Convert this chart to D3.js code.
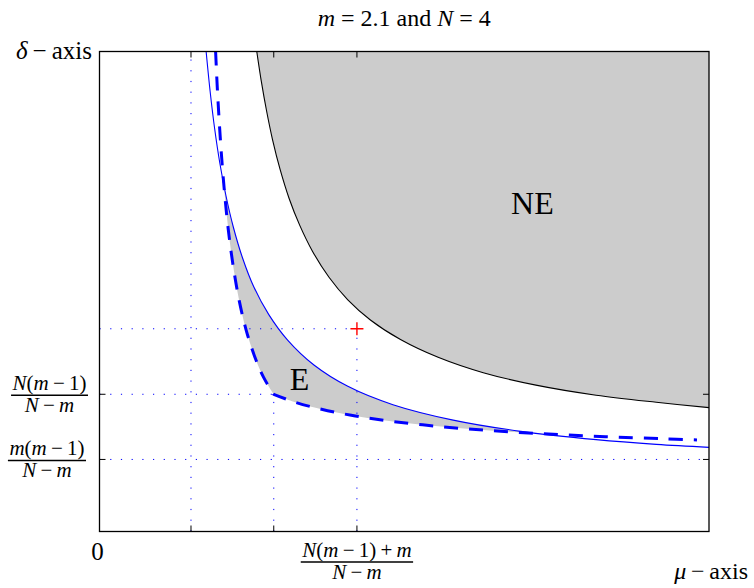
<!DOCTYPE html>
<html>
<head>
<meta charset="utf-8">
<script src="https://cdn.jsdelivr.net/npm/d3@7"></script>
<style>
  body { margin: 0; background: #fff; }
  text { font-family: "Liberation Serif", "Times New Roman", serif; fill: #000; }
</style>
</head>
<body>
<div id="chart"></div>
<script>
// values (mu on x, delta on y)
var muMax = 8.1;
var deltaMax = 8.1;

// tick positions: m(m-1)/(N-m), N(m-1)/(N-m), (N(m-1)+m)/(N-m) with m = 2.1, N = 4
var muTicks = [1.2158, 2.3158, 3.4211];
var deltaTicks = [1.2158, 2.3158];

// dotted guides: [value, extent along the other axis]
var guideH = [[1.2158, 8.1], [2.3158, 2.3158], [3.4211, 3.4211]];
var guideV = [[1.2158, 8.1], [2.3158, 2.3158], [3.4211, 3.4211]];

var crossPoint = [3.4211, 3.4211];

// black curve, NE border
var blackMu    = [2.09, 2.15, 2.22, 2.30, 2.40, 2.52, 2.66, 2.83, 3.05, 3.30, 3.60, 4.00, 4.50, 5.10, 5.80, 6.60, 7.40, 8.10];
var blackDelta = [8.10, 7.60, 7.10, 6.61, 6.11, 5.62, 5.17, 4.73, 4.29, 3.91, 3.57, 3.24, 2.94, 2.68, 2.47, 2.30, 2.18, 2.09];

// thin blue curve
var blueMu    = [1.417, 1.47, 1.53, 1.60, 1.68, 1.78, 1.90, 2.05, 2.25, 2.50, 2.85, 3.30, 3.90, 4.70, 5.60, 6.60, 7.40, 8.10];
var blueDelta = [8.10, 7.43, 6.80, 6.21, 5.67, 5.13, 4.62, 4.13, 3.66, 3.23, 2.81, 2.45, 2.14, 1.88, 1.69, 1.55, 1.47, 1.42];

// thick dashed blue curve, two pieces meeting at the corner
var dashLeftMu    = [1.543, 1.565, 1.592, 1.624, 1.663, 1.711, 1.774, 1.856, 1.949, 2.063, 2.181, 2.3158];
var dashLeftDelta = [8.10, 7.50, 6.90, 6.30, 5.70, 5.10, 4.50, 3.90, 3.40, 2.95, 2.60, 2.3158];
var dashRightMu    = [2.3158, 2.60, 2.95, 3.40, 3.90, 4.50, 5.10, 5.70, 6.30, 6.90, 7.50, 7.94];
var dashRightDelta = [2.3158, 2.181, 2.063, 1.949, 1.856, 1.774, 1.711, 1.663, 1.624, 1.592, 1.565, 1.545];

var svgWidth = 754;
var svgHeight = 588;

var svg = d3.select("#chart")
  .append("svg")
  .attr("width", svgWidth)
  .attr("height", svgHeight);

var x = d3.scaleLinear().domain([0, muMax]).range([99.5, 709]);
var y = d3.scaleLinear().domain([0, deltaMax]).range([531.5, 51.5]);

function zip(a, b) {
  return a.map(function(v, i) { return [v, b[i]]; });
}

var line = d3.line()
  .x(d => x(d[0]))
  .y(d => y(d[1]))
  .curve(d3.curveCatmullRom.alpha(0.5));

function pt(mu, delta) {
  return x(mu) + "," + y(delta);
}

var black = zip(blackMu, blackDelta);
var blue = zip(blueMu, blueDelta);
var dashLeft = zip(dashLeftMu, dashLeftDelta);
var dashRight = zip(dashRightMu, dashRightDelta);

// join the two dashed pieces into one path so the dash pattern runs on
var dashedPath = line(dashLeft) + line(dashRight).replace(/^M/, "L");

// NE region
svg.append("path")
  .attr("d", line(black) + "L" + pt(muMax, deltaMax) + "Z")
  .attr("fill", "#cccccc");

// E region: above the dashed curve and below the thin blue one
svg.append("clipPath")
  .attr("id", "belowBlue")
  .append("path")
  .attr("d", line(blue) + "L" + pt(muMax, 0) + "L" + pt(0, 0) + "L" + pt(0, deltaMax) + "Z");

var lastDash = dashRight[dashRight.length - 1];
svg.append("path")
  .attr("d", dashedPath + "L" + pt(muMax, lastDash[1]) + "L" + pt(muMax, deltaMax) + "Z")
  .attr("fill", "#cccccc")
  .attr("clip-path", "url(#belowBlue)");

// dotted guides
var guides = svg.append("g")
  .attr("stroke", "#0000ff")
  .attr("stroke-width", 1)
  .attr("stroke-dasharray", "1.2,9.5");

guides.selectAll(".gh")
  .data(guideH)
  .enter()
  .append("line")
  .attr("x1", x(0))
  .attr("x2", d => x(d[1]))
  .attr("y1", d => y(d[0]))
  .attr("y2", d => y(d[0]));

guides.selectAll(".gv")
  .data(guideV)
  .enter()
  .append("line")
  .attr("x1", d => x(d[0]))
  .attr("x2", d => x(d[0]))
  .attr("y1", y(0))
  .attr("y2", d => y(d[1]));

// curves
svg.append("path")
  .attr("d", line(black))
  .attr("fill", "none")
  .attr("stroke", "#000")
  .attr("stroke-width", 1.1);

svg.append("path")
  .attr("d", line(blue))
  .attr("fill", "none")
  .attr("stroke", "#0000ff")
  .attr("stroke-width", 1.1);

svg.append("path")
  .attr("d", dashedPath)
  .attr("fill", "none")
  .attr("stroke", "#0000ff")
  .attr("stroke-width", 3)
  .attr("stroke-dasharray", "14,11");

// red cross
var cx = x(crossPoint[0]), cy = y(crossPoint[1]);
svg.append("path")
  .attr("d", "M" + (cx - 6.5) + "," + cy + "H" + (cx + 6.5) + "M" + cx + "," + (cy - 6.5) + "V" + (cy + 6.5))
  .attr("stroke", "#ff0000")
  .attr("stroke-width", 1.4);

// axes box and ticks
svg.append("rect")
  .attr("x", x(0))
  .attr("y", y(deltaMax))
  .attr("width", x(muMax) - x(0))
  .attr("height", y(0) - y(deltaMax))
  .attr("fill", "none")
  .attr("stroke", "#000")
  .attr("stroke-width", 1.3);

var tickLen = 6;
var ticks = svg.append("g").attr("stroke", "#000").attr("stroke-width", 1);
muTicks.forEach(function(v) {
  ticks.append("line").attr("x1", x(v)).attr("x2", x(v)).attr("y1", y(0)).attr("y2", y(0) - tickLen);
  ticks.append("line").attr("x1", x(v)).attr("x2", x(v)).attr("y1", y(deltaMax)).attr("y2", y(deltaMax) + tickLen);
});
deltaTicks.forEach(function(v) {
  ticks.append("line").attr("x1", x(0)).attr("x2", x(0) + tickLen).attr("y1", y(v)).attr("y2", y(v));
  ticks.append("line").attr("x1", x(muMax)).attr("x2", x(muMax) - tickLen).attr("y1", y(v)).attr("y2", y(v));
});

// text helpers: "i" parts are italic math letters
function mathText(sel, parts) {
  parts.forEach(function(p) {
    sel.append("tspan")
      .attr("font-style", p[1] === "i" ? "italic" : "normal")
      .text(p[0]);
  });
  return sel;
}

var fracSize = 21;
function fraction(px, barY, num, den, anchor) {
  var g = svg.append("g");
  var n = mathText(g.append("text").attr("text-anchor", "middle").attr("y", -5).attr("font-size", fracSize), num);
  var d = mathText(g.append("text").attr("text-anchor", "middle").attr("y", 17).attr("font-size", fracSize), den);
  var w = Math.max(n.node().getComputedTextLength(), d.node().getComputedTextLength()) + 3;
  g.append("line")
    .attr("x1", -w / 2).attr("x2", w / 2)
    .attr("y1", 0).attr("y2", 0)
    .attr("stroke", "#000").attr("stroke-width", 1.4);
  var tx = anchor === "end" ? px - w / 2 : px;
  g.attr("transform", "translate(" + tx + "," + barY + ")");
}

var sp = "\u2009";

var title = svg.append("text")
  .attr("x", (x(0) + x(muMax)) / 2)
  .attr("y", 26)
  .attr("text-anchor", "middle")
  .attr("font-size", 24);
mathText(title, [["m", "i"], [" = 2.1 and ", "r"], ["N", "i"], [" = 4", "r"]]);

var dLabel = svg.append("text")
  .attr("x", 92).attr("y", 59)
  .attr("text-anchor", "end")
  .attr("font-size", 25);
mathText(dLabel, [["\u03b4", "i"], [sp + "\u2212" + sp + "axis", "r"]]);

var mLabel = svg.append("text")
  .attr("x", 748).attr("y", 579)
  .attr("text-anchor", "end")
  .attr("font-size", 24);
mathText(mLabel, [["\u03bc", "i"], [sp + "\u2212" + sp + "axis", "r"]]);

svg.append("text")
  .attr("x", x(0) - 2).attr("y", 560)
  .attr("text-anchor", "middle")
  .attr("font-size", 25)
  .text("0");

var NmOne = [["N", "i"], ["(", "r"], ["m", "i"], [sp + "\u2212" + sp + "1)", "r"]];
var mmOne = [["m", "i"], ["(", "r"], ["m", "i"], [sp + "\u2212" + sp + "1)", "r"]];
var NmOnePlus = [["N", "i"], ["(", "r"], ["m", "i"], [sp + "\u2212" + sp + "1)" + sp + "+" + sp, "r"], ["m", "i"]];
var NminusM = [["N", "i"], [sp + "\u2212" + sp, "r"], ["m", "i"]];

fraction(88, y(deltaTicks[1]) + 1, NmOne, NminusM, "end");
fraction(86, y(deltaTicks[0]) + 1, mmOne, NminusM, "end");
fraction(x(muTicks[2]), 562, NmOnePlus, NminusM, "middle");

// region labels
svg.append("text")
  .attr("x", x(5.47)).attr("y", y(5.36))
  .attr("font-size", 32)
  .text("NE");

svg.append("text")
  .attr("x", x(2.53)).attr("y", y(2.38))
  .attr("font-size", 32)
  .text("E");
</script>
</body>
</html>
